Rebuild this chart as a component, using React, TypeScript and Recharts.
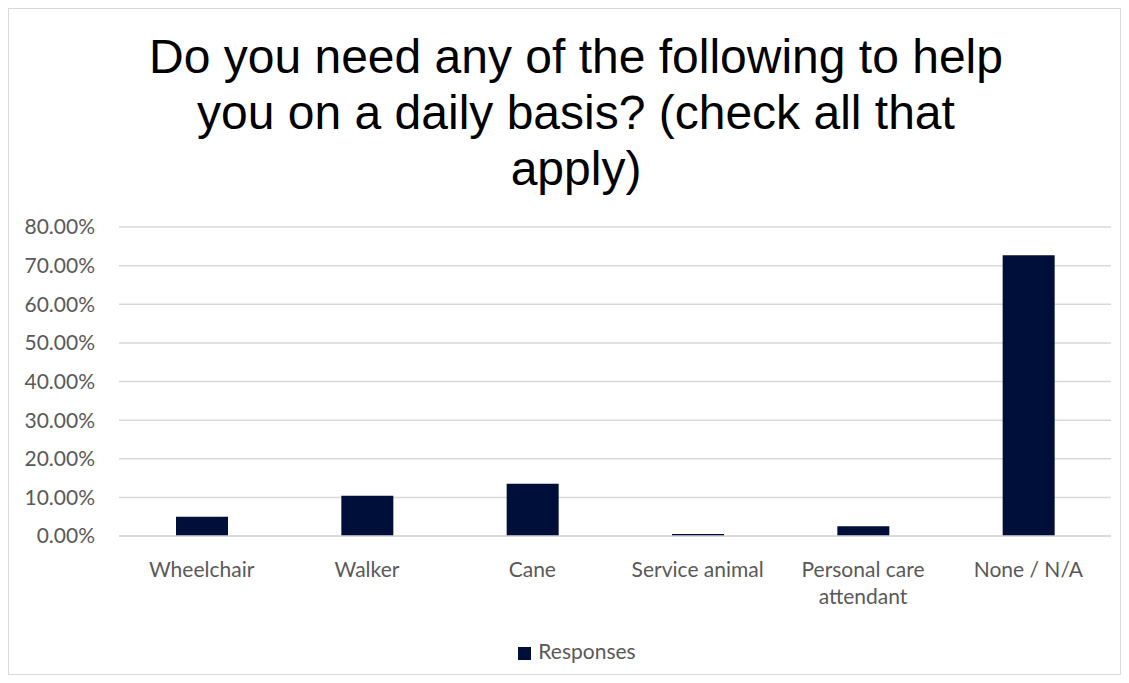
import * as React from 'react';
import { BarChart, Bar, XAxis, YAxis, CartesianGrid, Legend, Text } from 'recharts';

const CATEGORIES = ['Wheelchair', 'Walker', 'Cane', 'Service animal', 'Personal care attendant', 'None / N/A'];
const RESPONSES = [0.05, 0.104, 0.135, 0.005, 0.025, 0.727];
const Y_TICKS = [0, 0.1, 0.2, 0.3, 0.4, 0.5, 0.6, 0.7, 0.8];

const BAR_COLOR = '#000F3A';
const TEXT_COLOR = '#595959';
const FONT = 'Lato, "Open Sans", sans-serif';
const FONT_SIZE = 21;

const data = CATEGORIES.map((name, i) => ({ name, responses: RESPONSES[i] }));

// category labels wrap like the spreadsheet does
function CategoryTick(props: any) {
  const { x, y, payload } = props;
  return (
    <Text
      x={x}
      y={y}
      width={155}
      textAnchor="middle"
      verticalAnchor="start"
      fill={TEXT_COLOR}
      style={{ fontSize: FONT_SIZE, fontFamily: FONT }}
      lineHeight={27}
    >
      {payload.value}
    </Text>
  );
}

export default function App() {
  return (
    <div
      style={{
        position: 'relative',
        width: 1113,
        height: 667,
        border: '1px solid #d9d9d9',
        boxSizing: 'border-box',
        background: '#fff',
      }}
    >
      <div
        style={{
          position: 'absolute',
          top: 20,
          left: 137,
          width: 860,
          textAlign: 'center',
          fontFamily: '"Liberation Sans", Arial, sans-serif',
          fontSize: 48,
          lineHeight: '56px',
          color: '#000',
        }}
      >
        Do you need any of the following to help you on a daily basis? (check all that apply)
      </div>
      <BarChart
        width={1111}
        height={665}
        data={data}
        margin={{ top: 218, right: 9, bottom: 10, left: 0 }}
      >
        <CartesianGrid vertical={false} stroke="#d9d9d9" strokeWidth={1.5} />
        <XAxis
          dataKey="name"
          axisLine={{ stroke: '#d9d9d9', strokeWidth: 1.5 }}
          tickLine={false}
          tickSize={0}
          height={102}
          interval={0}
          tick={<CategoryTick />}
          tickMargin={26}
        />
        <YAxis
          width={110}
          domain={[0, 0.8]}
          ticks={Y_TICKS}
          axisLine={false}
          tickLine={false}
          tickSize={0}
          tickMargin={24}
          tickFormatter={(v: number) => `${(v * 100).toFixed(2)}%`}
          tick={{ fill: TEXT_COLOR, fontSize: FONT_SIZE, fontFamily: FONT }}
        />
        <Legend
          verticalAlign="bottom"
          iconType="square"
          iconSize={13}
          wrapperStyle={{ left: 22, fontFamily: FONT, fontSize: FONT_SIZE, color: TEXT_COLOR, lineHeight: '26px' }}
          formatter={(value: string) => <span style={{ color: TEXT_COLOR, marginLeft: 3 }}>{value}</span>}
        />
        <Bar
          dataKey="responses"
          name="Responses"
          fill={BAR_COLOR}
          barSize={52}
          isAnimationActive={false}
        />
      </BarChart>
    </div>
  );
}
